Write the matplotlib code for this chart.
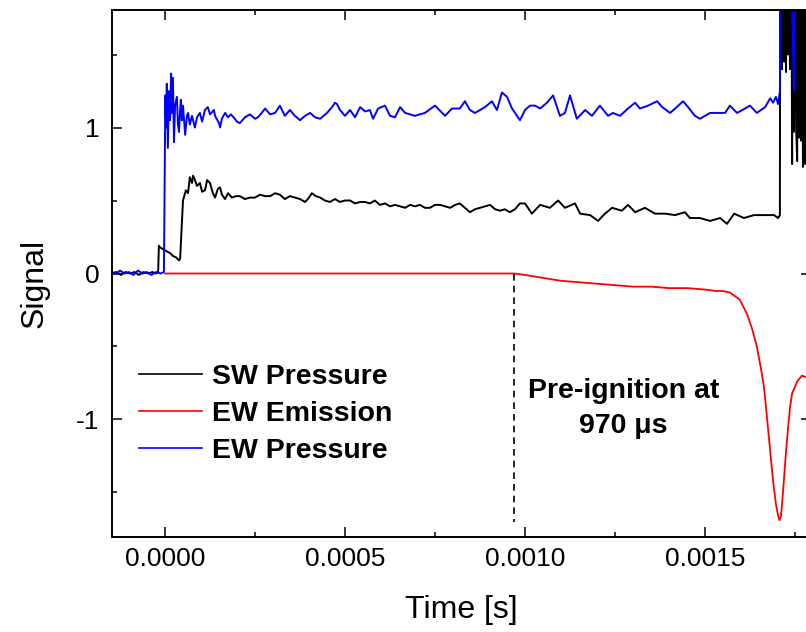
import matplotlib
matplotlib.use("Agg")
import matplotlib.pyplot as plt
from matplotlib.ticker import MultipleLocator, FormatStrFormatter
import numpy as np

plt.rcParams['font.family'] = ['Liberation Sans', 'DejaVu Sans']
plt.rcParams['axes.unicode_minus'] = False

# ---- data (time in microseconds, signal in arbitrary units) ----
sw_t_us = [-147, -135, -122, -110, -97, -85, -72, -60, -47, -35, -25, -19, -17, -14, -8, 0, 6, 14, 22, 31, 39, 42,
           50, 58, 64, 69, 75, 78, 83, 89, 97, 103, 111, 117, 125, 133, 139, 147, 153, 158, 167, 175, 186, 197, 208,
           222, 236, 250, 264, 278, 292, 306, 319, 333, 347, 361, 375, 389, 397, 408, 419, 431, 444, 458, 472, 486,
           500, 514, 528, 542, 556, 569, 583, 597, 611, 625, 639, 653, 667, 681, 694, 708, 722, 736, 750, 764, 778,
           792, 806, 819, 833, 847, 861, 875, 889, 903, 917, 931, 944, 958, 972, 986, 1000, 1019, 1042, 1069, 1092,
           1111, 1139, 1153, 1181, 1203, 1222, 1242, 1269, 1286, 1306, 1333, 1361, 1389, 1417, 1444, 1458, 1486,
           1514, 1542, 1561, 1581, 1608, 1636, 1664, 1692, 1703, 1708, 1709, 1714, 1717, 1720, 1722, 1725, 1728,
           1731, 1733, 1736, 1739, 1742, 1744, 1747, 1750, 1753, 1756, 1758, 1761, 1764, 1767, 1769, 1772, 1775,
           1778, 1781, 1786, 1795]
sw_val = [0.00, 0.01, -0.01, 0.01, 0.00, 0.01, -0.01, 0.01, 0.00, 0.01, 0.00, 0.01, 0.19, 0.18, 0.17, 0.16, 0.15,
          0.14, 0.12, 0.11, 0.09, 0.10,
          0.50, 0.57, 0.55, 0.66, 0.62, 0.67, 0.64, 0.60, 0.62, 0.56, 0.57, 0.64, 0.62, 0.55, 0.52, 0.58, 0.59, 0.54,
          0.51, 0.55, 0.52, 0.53, 0.53,
          0.51, 0.52, 0.52, 0.54, 0.53, 0.53, 0.55, 0.54, 0.51, 0.53, 0.52, 0.51, 0.49, 0.51, 0.55, 0.53, 0.52, 0.50,
          0.49, 0.51, 0.49,
          0.50, 0.50, 0.48, 0.49, 0.49, 0.48, 0.50, 0.47, 0.48, 0.46, 0.47, 0.46, 0.45, 0.47, 0.46, 0.47, 0.45, 0.45,
          0.47, 0.47, 0.46,
          0.45, 0.47, 0.48, 0.45, 0.42, 0.44, 0.45, 0.46, 0.47, 0.44, 0.43, 0.44, 0.42, 0.44, 0.48, 0.48, 0.41, 0.47,
          0.45, 0.50,
          0.45, 0.48, 0.41, 0.40, 0.36, 0.41, 0.45, 0.43, 0.47, 0.42, 0.45, 0.41, 0.41, 0.40, 0.42, 0.38, 0.38,
          0.36, 0.38, 0.34, 0.41, 0.38, 0.40, 0.40, 0.40, 0.38, 0.40, 2.60, 1.40, 2.60, 1.45, 2.60, 1.38, 2.60,
          1.50, 2.60, 1.40, 2.60, 0.75, 2.60, 0.97, 2.60, 1.00, 0.77, 2.60, 0.93, 2.60, 0.91, 2.60, 0.73, 2.60,
          0.75, 2.60, 0.90, 2.60]

ew_em_t_us = [0, 200, 400, 600, 800, 970, 1000, 1050, 1100, 1150, 1200, 1250, 1300, 1350, 1400, 1450, 1500, 1530,
              1550, 1569, 1597, 1617, 1631, 1644, 1656, 1664, 1675, 1689, 1697, 1703, 1707, 1711, 1714, 1719, 1725,
              1731, 1736, 1742, 1756, 1769, 1781, 1794]
ew_em_val = [0.00, 0.00, 0.00, 0.00, 0.00, 0.00, -0.01, -0.03, -0.05, -0.06, -0.07, -0.08, -0.09, -0.09, -0.10,
             -0.10, -0.11, -0.12, -0.12, -0.13, -0.18, -0.28, -0.38, -0.50, -0.66, -0.78, -1.06, -1.42, -1.58, -1.66,
             -1.69, -1.66, -1.58, -1.42, -1.22, -1.05, -0.92, -0.82, -0.74, -0.70, -0.71, -0.74]

ew_p_t_us = [-147, -135, -125, -112, -100, -88, -75, -62, -50, -38, -25, -12, -3, 1, 3, 5, 8, 11, 14, 17, 19, 22,
             25, 28, 33, 36, 39, 42, 44, 47, 50, 56, 61, 64, 69, 75, 83, 89, 97, 103, 111, 119, 125, 136, 139, 150,
             153, 158, 167, 175, 183, 194, 200, 208, 222, 236, 250, 258, 272, 278, 292, 306, 319, 333, 347, 361, 375,
             389, 403, 417, 431, 450, 464, 472, 478, 486, 500, 514, 528, 542, 556, 569, 578, 592, 611, 625, 639, 653,
             667, 694, 722, 750, 778, 797, 819, 833, 847, 861, 889, 908, 922, 936, 950, 964, 986, 1000, 1014, 1028,
             1042, 1061, 1078, 1097, 1111, 1125, 1144, 1167, 1186, 1208, 1231, 1244, 1264, 1286, 1306, 1319, 1342,
             1367, 1381, 1403, 1417, 1439, 1453, 1472, 1486, 1514, 1536, 1556, 1569, 1589, 1611, 1625, 1644, 1667,
             1681, 1689, 1697, 1703, 1708, 1711, 1722, 1736, 1747, 1753, 1764, 1780, 1795]
ew_p_val = [0.01, 0.00, 0.02, 0.00, 0.01, -0.01, 0.02, 0.00, 0.01, -0.01, 0.01, 0.00, 0.01, 1.22, 1.00, 1.30, 0.86,
            1.25, 1.05, 1.37, 1.10, 1.34, 0.90, 1.15, 1.21, 1.02, 0.97, 1.12, 1.19, 1.05, 1.15, 0.95, 1.08, 1.10,
            1.02, 1.08, 1.00, 1.07, 1.10, 1.04, 1.12, 1.14, 1.09, 1.12, 1.08, 1.03, 1.00, 1.06, 1.10, 1.07, 1.09,
            1.06, 1.04, 1.03, 1.07, 1.09, 1.06, 1.07, 1.11, 1.13, 1.09, 1.10, 1.15, 1.08, 1.12, 1.08, 1.05, 1.08,
            1.10, 1.07, 1.06, 1.10, 1.14, 1.17, 1.16, 1.12, 1.08, 1.12, 1.07, 1.14, 1.11, 1.12, 1.06, 1.13, 1.15,
            1.08, 1.07, 1.14, 1.10, 1.08, 1.10, 1.15, 1.08, 1.13, 1.13, 1.18, 1.12, 1.10, 1.14, 1.18, 1.12, 1.24,
            1.21, 1.13, 1.05, 1.12, 1.15, 1.15, 1.13, 1.17, 1.22, 1.08, 1.10, 1.22, 1.06, 1.12, 1.08, 1.15, 1.08,
            1.10, 1.08, 1.13, 1.17, 1.13, 1.15, 1.18, 1.14, 1.10, 1.13, 1.18, 1.14, 1.08, 1.06, 1.10, 1.10, 1.10,
            1.15, 1.10, 1.13, 1.15, 1.10, 1.14, 1.20, 1.17, 1.21, 1.16, 1.25, 2.60, 2.40, 2.50, 1.25, 2.50, 2.40,
            2.50, 2.50]

series_labels = ["SW Pressure", "EW Emission", "EW Pressure"]
series_colors = ["#000000", "#ff0000", "#0000ff"]
preignition_us = 970
annotation = "Pre-ignition at\n970 \u03bcs"

us = 1e-6

fig = plt.figure(figsize=(8.06, 6.32), dpi=100)
ax = fig.add_axes([112 / 806, 95 / 632, 699 / 806, 527 / 632])

ax.plot(np.array(sw_t_us) * us, sw_val, color=series_colors[0], lw=1.4, label=series_labels[0])
ax.plot(np.array(ew_em_t_us) * us, ew_em_val, color=series_colors[1], lw=1.3, label=series_labels[1])
ax.plot(np.array(ew_p_t_us) * us, ew_p_val, color=series_colors[2], lw=1.4, label=series_labels[2])

ax.plot([preignition_us * us, preignition_us * us], [0.0, -1.70], color="black", lw=1.2,
        linestyle=(0, (4, 3)))

ax.text(1274 * us, -0.925, annotation, ha="center", va="center", fontsize=20.5, fontweight="bold",
        linespacing=1.45)

ax.set_xlim(-147.2 * us, 1794.4 * us)
ax.set_ylim(-1.805, 1.805)

ax.xaxis.set_major_locator(MultipleLocator(0.0005))
ax.xaxis.set_minor_locator(MultipleLocator(0.00025))
ax.xaxis.set_major_formatter(FormatStrFormatter("%.4f"))
ax.yaxis.set_major_locator(MultipleLocator(1))
ax.yaxis.set_minor_locator(MultipleLocator(0.5))
ax.yaxis.set_major_formatter(FormatStrFormatter("%d"))

ax.tick_params(which="both", direction="in", top=True, right=True, width=1.1)
ax.tick_params(which="major", length=7, labelsize=19)
ax.tick_params(which="minor", length=3.5)
ax.tick_params(axis="x", which="major", pad=7)
ax.tick_params(axis="y", which="major", pad=9)
for s in ax.spines.values():
    s.set_linewidth(1.4)

ax.set_xlabel("Time [s]", fontsize=23)
ax.set_ylabel("Signal", fontsize=23)
ax.xaxis.set_label_coords(0.50, -0.11)
ax.yaxis.set_label_coords(-0.090, 0.482)

leg = ax.legend(loc="upper left", bbox_to_anchor=(139 / 806, 1 - 364 / 632),
                bbox_transform=fig.transFigure, frameon=False, borderpad=0, borderaxespad=0,
                handlelength=2.2, handletextpad=0.35, labelspacing=0.385,
                prop={"weight": "bold", "size": 20.5})
for line in leg.get_lines():
    line.set_linewidth(1.2)

fig.savefig("out.png", dpi=100)
